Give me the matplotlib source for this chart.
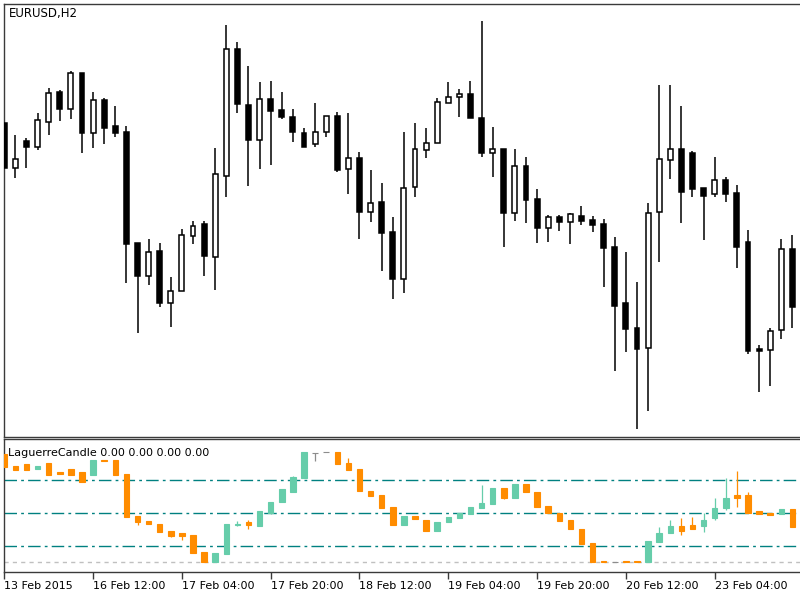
import numpy as np
import matplotlib
matplotlib.use('Agg')
import matplotlib.pyplot as plt

# EURUSD H2 prices (one entry per bar)
opens = [1.14385, 1.14160, 1.14295, 1.14265, 1.14390, 1.14540, 1.14455, 1.14635, 1.14335, 1.14500,
         1.14370, 1.14340, 1.13785, 1.13620, 1.13745, 1.13485, 1.13545, 1.13820, 1.13880, 1.13715,
         1.14120, 1.14755, 1.14475, 1.14300, 1.14505, 1.14450, 1.14415, 1.14335, 1.14280, 1.14340,
         1.14420, 1.14155, 1.14210, 1.13940, 1.13990, 1.13840, 1.13605, 1.14065, 1.14250, 1.14285,
         1.14485, 1.14515, 1.14530, 1.14410, 1.14235, 1.14255, 1.13935, 1.14170, 1.14005, 1.13860,
         1.13915, 1.13890, 1.13920, 1.13900, 1.13880, 1.13765, 1.13485, 1.13360, 1.13260, 1.13940,
         1.14200, 1.14255, 1.14235, 1.14060, 1.14030, 1.14100, 1.14035, 1.13790, 1.13255, 1.13250,
         1.13350, 1.13755]
highs = [1.14395, 1.14325, 1.14310, 1.14435, 1.14560, 1.14550, 1.14645, 1.14635, 1.14540, 1.14510,
         1.14470, 1.14370, 1.13785, 1.13805, 1.13785, 1.13615, 1.13855, 1.13895, 1.13895, 1.14260,
         1.14875, 1.14790, 1.14670, 1.14590, 1.14595, 1.14540, 1.14455, 1.14360, 1.14485, 1.14420,
         1.14440, 1.14435, 1.14240, 1.14150, 1.14085, 1.13915, 1.14340, 1.14385, 1.14360, 1.14510,
         1.14590, 1.14555, 1.14595, 1.14895, 1.14365, 1.14255, 1.14255, 1.14215, 1.14055, 1.13925,
         1.13925, 1.13935, 1.13970, 1.13920, 1.13905, 1.13815, 1.13740, 1.13590, 1.13985, 1.14575,
         1.14575, 1.14470, 1.14245, 1.14060, 1.14215, 1.14115, 1.14075, 1.13850, 1.13275, 1.13360,
         1.13805, 1.13825]
lows = [1.14150, 1.14110, 1.14160, 1.14250, 1.14325, 1.14395, 1.14405, 1.14235, 1.14260, 1.14280,
        1.14315, 1.13585, 1.13335, 1.13575, 1.13465, 1.13365, 1.13545, 1.13780, 1.13620, 1.13550,
        1.14015, 1.14435, 1.14070, 1.14155, 1.14175, 1.14405, 1.14290, 1.14265, 1.14265, 1.14315,
        1.14140, 1.14030, 1.13805, 1.13890, 1.13645, 1.13505, 1.13535, 1.14015, 1.14210, 1.14285,
        1.14485, 1.14415, 1.14410, 1.14215, 1.14115, 1.13765, 1.13895, 1.13885, 1.13785, 1.13790,
        1.13845, 1.13780, 1.13875, 1.13840, 1.13565, 1.13145, 1.13240, 1.12855, 1.12945, 1.13690,
        1.14105, 1.13885, 1.14015, 1.13800, 1.14015, 1.13990, 1.13660, 1.13230, 1.13040, 1.13070,
        1.13305, 1.13360]
closes = [1.14160, 1.14205, 1.14265, 1.14400, 1.14535, 1.14455, 1.14635, 1.14335, 1.14500, 1.14360,
          1.14335, 1.13780, 1.13620, 1.13740, 1.13485, 1.13545, 1.13825, 1.13870, 1.13720, 1.14130,
          1.14755, 1.14480, 1.14300, 1.14505, 1.14445, 1.14415, 1.14340, 1.14265, 1.14340, 1.14420,
          1.14150, 1.14210, 1.13940, 1.13985, 1.13835, 1.13605, 1.14060, 1.14255, 1.14285, 1.14490,
          1.14515, 1.14530, 1.14410, 1.14235, 1.14255, 1.13935, 1.14170, 1.14000, 1.13860, 1.13915,
          1.13890, 1.13930, 1.13895, 1.13875, 1.13760, 1.13470, 1.13355, 1.13255, 1.13935, 1.14205,
          1.14255, 1.14040, 1.14055, 1.14020, 1.14100, 1.14030, 1.13765, 1.13245, 1.13245, 1.13345,
          1.13755, 1.13465]

# LaguerreCandle indicator values (0..1)
lag_open = [0.98, 0.87, 0.89, 0.85, 0.90, 0.82, 0.85, 0.82, 0.79, 0.93, 0.93, 0.80, 0.42, 0.37, 0.35,
            0.28, 0.26, 0.25, 0.09, 0.00, 0.07, 0.34, 0.36, 0.33, 0.45, 0.55, 0.64, 0.76, 0.99, 1.00,
            1.00, 0.90, 0.85, 0.65, 0.61, 0.50, 0.34, 0.42, 0.38, 0.28, 0.36, 0.40, 0.44, 0.49, 0.53,
            0.67, 0.58, 0.71, 0.64, 0.51, 0.45, 0.38, 0.30, 0.17, 0.005, 0.00, 0.005, 0.005, 0.00, 0.18,
            0.26, 0.33, 0.34, 0.33, 0.40, 0.49, 0.61, 0.61, 0.46, 0.45, 0.44, 0.48]
lag_high = [0.98, 0.87, 0.89, 0.87, 0.90, 0.82, 0.85, 0.82, 0.93, 0.93, 0.93, 0.80, 0.42, 0.37, 0.35,
            0.28, 0.26, 0.25, 0.09, 0.08, 0.35, 0.37, 0.38, 0.46, 0.55, 0.66, 0.78, 1.00, 0.99, 1.00,
            1.00, 0.95, 0.85, 0.65, 0.61, 0.50, 0.42, 0.42, 0.38, 0.36, 0.41, 0.45, 0.50, 0.70, 0.67,
            0.67, 0.71, 0.71, 0.64, 0.51, 0.45, 0.38, 0.30, 0.17, 0.005, 0.00, 0.005, 0.005, 0.19, 0.32,
            0.38, 0.40, 0.41, 0.45, 0.58, 0.76, 0.83, 0.64, 0.46, 0.45, 0.48, 0.48]
lag_low = [0.86, 0.84, 0.84, 0.85, 0.79, 0.80, 0.79, 0.73, 0.79, 0.92, 0.79, 0.41, 0.34, 0.35, 0.27,
           0.23, 0.20, 0.08, 0.00, 0.00, 0.07, 0.33, 0.30, 0.33, 0.44, 0.55, 0.64, 0.76, 0.92, 1.00,
           0.89, 0.84, 0.65, 0.60, 0.49, 0.34, 0.34, 0.39, 0.28, 0.28, 0.36, 0.40, 0.44, 0.49, 0.53,
           0.57, 0.58, 0.64, 0.50, 0.45, 0.37, 0.30, 0.16, 0.00, 0.00, 0.00, 0.00, 0.00, 0.00, 0.18,
           0.26, 0.25, 0.30, 0.27, 0.38, 0.47, 0.50, 0.45, 0.44, 0.43, 0.44, 0.32]
lag_close = [0.86, 0.84, 0.84, 0.87, 0.79, 0.80, 0.79, 0.73, 0.93, 0.92, 0.79, 0.41, 0.36, 0.35, 0.27,
             0.24, 0.24, 0.08, 0.00, 0.08, 0.35, 0.35, 0.34, 0.46, 0.55, 0.66, 0.77, 1.00, 0.99, 1.00,
             0.89, 0.84, 0.65, 0.60, 0.49, 0.34, 0.42, 0.39, 0.28, 0.36, 0.41, 0.45, 0.50, 0.54, 0.67,
             0.58, 0.71, 0.64, 0.50, 0.45, 0.37, 0.30, 0.16, 0.00, 0.00, 0.00, 0.00, 0.00, 0.19, 0.26,
             0.33, 0.28, 0.30, 0.38, 0.49, 0.58, 0.58, 0.45, 0.44, 0.43, 0.48, 0.32]
levels = [0.75, 0.45, 0.15]

tick_bars = [0, 8, 16, 24, 32, 40, 48, 56, 64]
tick_labels = ["13 Feb 2015", "16 Feb 12:00", "17 Feb 04:00", "17 Feb 20:00", "18 Feb 12:00",
               "19 Feb 04:00", "19 Feb 20:00", "20 Feb 12:00", "23 Feb 04:00"]

W, H = 800, 600
fig = plt.figure(figsize=(8, 6), dpi=100)

def axes_px(left, top, right, bottom):
    return fig.add_axes([left / W, 1 - bottom / H, (right - left) / W, (bottom - top) / H])

frame = '#3a3a3a'
ax = axes_px(3.5, 3.5, 801, 436.5)
ax2 = axes_px(3.5, 439, 801, 572)

x = np.arange(len(opens))
o, h, l, c = map(np.array, (opens, highs, lows, closes))

# price candles
ax.vlines(x, l, h, color='black', lw=1.1, zorder=2)
body_col = ['white' if cc >= oo else 'black' for oo, cc in zip(o, c)]
ax.bar(x, c - o, bottom=o, width=0.45, color=body_col, edgecolor='black', lw=1.1, zorder=3)

# indicator candles
lo, lh, ll, lc = map(np.array, (lag_open, lag_high, lag_low, lag_close))
lag_col = ['#66CDAA' if cc > oo else ('#FF8C00' if cc < oo else '#8c8c8c') for oo, cc in zip(lo, lc)]
ax2.vlines(x, ll, lh, color=lag_col, lw=0.9, zorder=2)
ax2.bar(x, lc - lo, bottom=lo, width=0.5, color=lag_col, edgecolor=lag_col, lw=0.8, zorder=3)

for v in levels:
    ax2.axhline(v, color='#008080', lw=1.0, ls=(0, (9, 3, 2, 3)), zorder=1)
ax2.axhline(0, color='#c0c0c0', lw=1.0, ls=(0, (3, 3)), zorder=1)

xmin = (3.5 - 4.3) / 11.1
xmax = (801 - 4.3) / 11.1
for a in (ax, ax2):
    a.set_xlim(xmin, xmax)
    a.spines['right'].set_visible(False)
    for s in ('left', 'top', 'bottom'):
        a.spines[s].set_color(frame)
        a.spines[s].set_linewidth(1.0)
    a.set_yticks([])

ax.set_ylim(1.15 - 436.5 * 0.00005, 1.15 - 3.5 * 0.00005)
ax.set_xticks([])
ax2.set_ylim((562 - 572) / 110, (562 - 439) / 110)

ax2.set_xticks(tick_bars)
ax2.set_xticklabels(tick_labels, ha='left', fontsize=8)
ax2.tick_params(axis='x', length=5, width=1, color=frame, pad=1.5)

fig.text(9 / W, 1 - 14 / H, "EURUSD,H2", fontsize=8.5, va='center', ha='left')
fig.text(8 / W, 1 - 453 / H, "LaguerreCandle 0.00 0.00 0.00 0.00", fontsize=8, va='center', ha='left')

fig.savefig('out.png', dpi=100)
